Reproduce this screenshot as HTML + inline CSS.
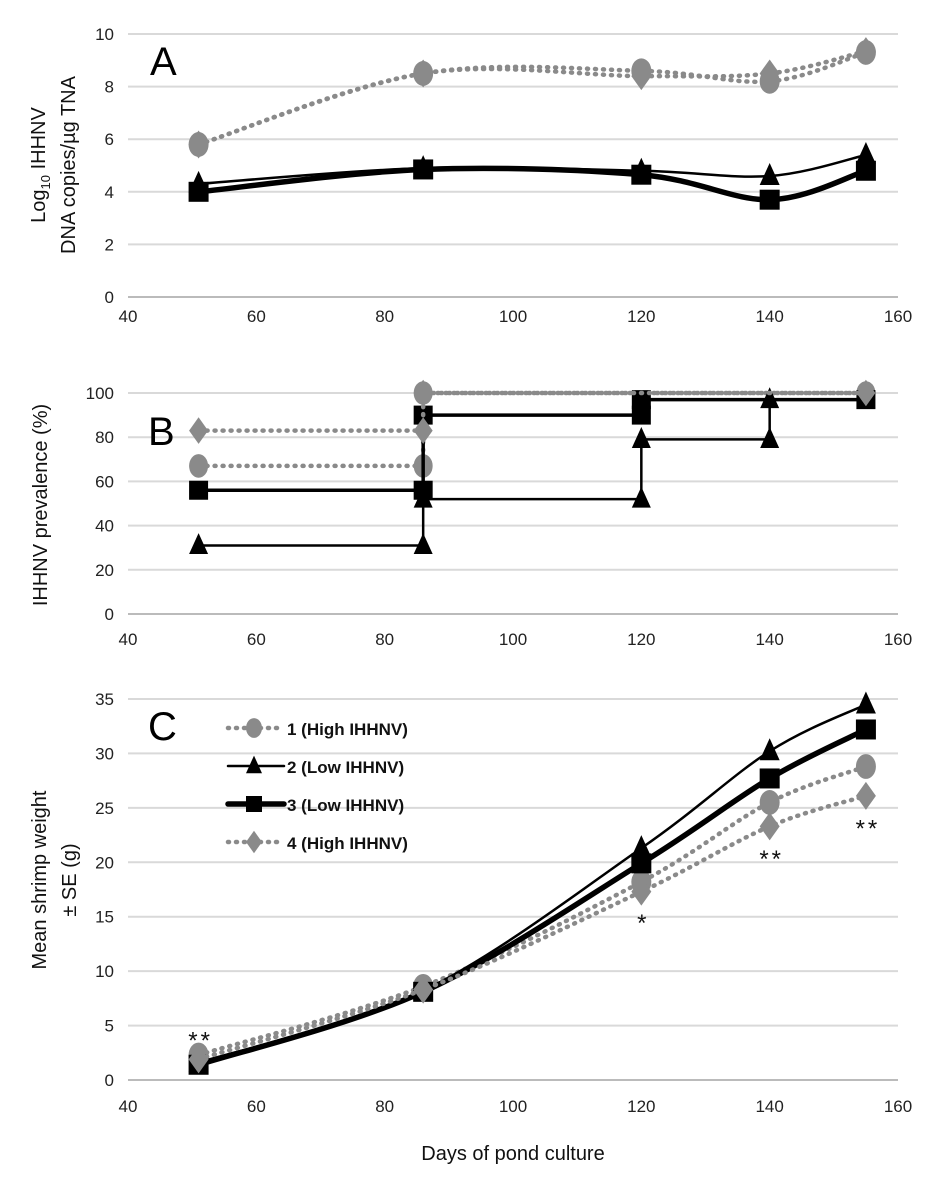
<!DOCTYPE html>
<html><head><meta charset="utf-8"><style>
body{margin:0;background:#fff}
svg{display:block;font-family:"Liberation Sans",sans-serif}
</style></head><body>
<svg id="chart" width="930" height="1182" viewBox="0 0 930 1182"></svg>
<script>
const days=[51,86,120,140,155];
const xTicks=[40,60,80,100,120,140,160];
// Panel A: log10 IHHNV copies
const aPond1=[5.8,8.5,8.6,8.2,9.3];
const aPond2=[4.3,4.9,4.8,4.6,5.4];
const aPond3=[4.0,4.85,4.65,3.7,4.8];
const aPond4=[5.8,8.5,8.4,8.5,9.35];
const aTicks=[0,2,4,6,8,10];
// Panel B: prevalence (%), step values at each day
const bPond1=[67,100,100,100,100];
const bPond2=[31,52,79,97,97];
const bPond3=[56,90,97,97,97];
const bPond4=[83,100,100,100,100];
const bTicks=[0,20,40,60,80,100];
// Panel C: mean weight (g)
const cPond1=[2.3,8.6,18.2,25.5,28.8];
const cPond2=[1.6,8.2,21.3,30.2,34.5];
const cPond3=[1.4,8.1,19.9,27.7,32.2];
const cPond4=[1.9,8.3,17.3,23.3,26.1];
const cTicks=[0,5,10,15,20,25,30,35];
const cStarDays=[51,120,140,155];
const cStarVals=[3.8,14.6,20.5,23.3];
const cStarText=["**","*","**","**"];
const legendLabels=["1 (High IHHNV)","2 (Low IHHNV)","3 (Low IHHNV)","4 (High IHHNV)"];

const NS="http://www.w3.org/2000/svg";
const svg=document.getElementById('chart');
function mk(tag,attrs,parent){const e=document.createElementNS(NS,tag);for(const k in attrs)e.setAttribute(k,attrs[k]);(parent||svg).appendChild(e);return e;}
const X0=128,X1=898;
const xs=d=>X0+(d-40)/120*(X1-X0);
const GRAY="#8a8a8a";
const styles=[
 {stroke:GRAY,w:4.5,dash:"1 7",marker:"circle",fill:GRAY},
 {stroke:"#000",w:2.5,dash:"",marker:"triangle",fill:"#000"},
 {stroke:"#000",w:5.5,dash:"",marker:"square",fill:"#000"},
 {stroke:GRAY,w:4.5,dash:"1 7",marker:"diamond",fill:GRAY}];

function marker(type,x,y,fill,s,g){
 let e;
 if(type==="circle")e=mk('ellipse',{cx:x,cy:y,rx:s*0.5,ry:s*0.62,fill},g);
 else if(type==="square")e=mk('rect',{x:x-s/2,y:y-s/2,width:s,height:s,fill},g);
 else if(type==="triangle")e=mk('polygon',{points:`${x},${y-s*0.65} ${x+s/2},${y+s*0.45} ${x-s/2},${y+s*0.45}`,fill},g);
 else e=mk('polygon',{points:`${x},${y-s*0.7} ${x+s/2},${y} ${x},${y+s*0.7} ${x-s/2},${y}`,fill},g);
 return e;
}
function smoothPath(pts){
 let d=`M${pts[0][0]},${pts[0][1]}`;
 for(let i=0;i<pts.length-1;i++){
  const p0=pts[Math.max(0,i-1)],p1=pts[i],p2=pts[i+1],p3=pts[Math.min(pts.length-1,i+2)];
  const t=0.5/3;
  d+=` C${p1[0]+(p2[0]-p0[0])*t},${p1[1]+(p2[1]-p0[1])*t} ${p2[0]-(p3[0]-p1[0])*t},${p2[1]-(p3[1]-p1[1])*t} ${p2[0]},${p2[1]}`;
 }
 return d;
}
function axes(name,yTop,yBot,ticks,xLabY){
 const g=mk('g',{});
 
 
 const tmax=ticks[ticks.length-1];
 const ys=v=>yBot-(v/tmax)*(yBot-yTop);
 ticks.forEach(t=>{
  const l=mk('line',{x1:X0,x2:X1,y1:ys(t),y2:ys(t),stroke:t===0?"#bbb":"#d9d9d9","stroke-width":2},g);
  
  
  const tx=mk('text',{x:X0-14,y:ys(t)+6,"text-anchor":"end","font-size":17,fill:"#222"},g);
  tx.textContent=t;
  
  
 });
 xTicks.forEach(t=>{
  const tx=mk('text',{x:xs(t),y:xLabY,"text-anchor":"middle","font-size":17,fill:"#222"},g);
  tx.textContent=t;
  
  
 });
 return ys;
}
function linePanel(name,series,ys,ms){
 series.forEach((vals,i)=>{
  const st=styles[i];
  const g=mk('g',{});
  
  
  const pts=vals.map((v,j)=>[xs(days[j]),ys(v)]);
  const p=mk('path',{d:smoothPath(pts),fill:"none",stroke:st.stroke,"stroke-width":st.w,"stroke-dasharray":st.dash,"stroke-linecap":"round"},g);
  
  
  pts.forEach(q=>{const m=marker(st.marker,q[0],q[1],st.fill,ms,g);
   
   });
 });
}
// Panel A
const ysA=axes('panel-a',34,297,aTicks,322);
linePanel('panel-a',[aPond1,aPond2,aPond3,aPond4],ysA,20);
// Panel B
const ysB=axes('panel-b',393,614,bTicks,645);
[bPond1,bPond2,bPond3,bPond4].forEach((vals,i)=>{
 const st=styles[i];
 const g=mk('g',{});
 
 
 let d=`M${xs(days[0])},${ysB(vals[0])}`;
 const mpts=[[days[0],vals[0]]];
 for(let j=1;j<days.length;j++){
  d+=` L${xs(days[j])},${ysB(vals[j-1])} L${xs(days[j])},${ysB(vals[j])}`;
  if(vals[j]!==vals[j-1]||j===days.length-1)mpts.push([days[j],vals[j-1]]);
  if(vals[j]!==vals[j-1])mpts.push([days[j],vals[j]]);
 }
 const w=i===2?3.5:(i===1?2.5:4.5);
 const p=mk('path',{d,fill:"none",stroke:st.stroke,"stroke-width":w,"stroke-dasharray":st.dash,"stroke-linecap":"round"},g);
 
 
 mpts.forEach(q=>{const m=marker(st.marker,xs(q[0]),ysB(q[1]),st.fill,19,g);
  
  });
});
// Panel C
const ysC=axes('panel-c',699,1080,cTicks,1112);
linePanel('panel-c',[cPond1,cPond2,cPond3,cPond4],ysC,20);
cStarDays.forEach((d,i)=>{
 const t=mk('text',{x:xs(d)+2,y:ysC(cStarVals[i])+10,"text-anchor":"middle","font-size":24,"letter-spacing":"3",fill:"#111"});
 t.textContent=cStarText[i];
 
 
});
// Legend
const lg=mk('g',{});


legendLabels.forEach((lab,i)=>{
 const st=styles[i];const y=728+i*38;
 const e=mk('g',{},lg);
 
 
 mk('line',{x1:228,x2:284,y1:y,y2:y,stroke:st.stroke,"stroke-width":st.w,"stroke-dasharray":st.dash,"stroke-linecap":"round"},e);
 marker(st.marker,254,y,st.fill,16,e);
 const t=mk('text',{x:287,y:y+7,"font-size":17,"font-weight":"bold",fill:"#111"},e);
 t.textContent=lab;
});
// Panel letters and titles
[["A",150,75,"panel-a-letter"],["B",148,445,"panel-b-letter"],["C",148,740,"panel-c-letter"]].forEach(a=>{
 const t=mk('text',{x:a[1],y:a[2],"font-size":40,fill:"#000"});t.textContent=a[0];
 
 
});
function ytitle(lines,cx,cy,name){
 const t=mk('text',{transform:`translate(${cx},${cy}) rotate(-90)`,"text-anchor":"middle","font-size":20,fill:"#111"});
 
 
 lines.forEach((l,i)=>{const ts=mk('tspan',{x:0,y:i*30},t);ts.innerHTML=l;});
}
ytitle(['Log<tspan font-size="13" dy="5">10</tspan><tspan dy="-5"> IHHNV</tspan>','DNA copies/µg TNA'],45,165,'panel-a-y-axis-title');
ytitle(['IHHNV prevalence (%)'],47,505,'panel-b-y-axis-title');
ytitle(['Mean shrimp weight','± SE (g)'],46,880,'panel-c-y-axis-title');
const xt=mk('text',{x:513,y:1160,"text-anchor":"middle","font-size":20,fill:"#111"});
xt.textContent="Days of pond culture";


</script>
</body></html>
